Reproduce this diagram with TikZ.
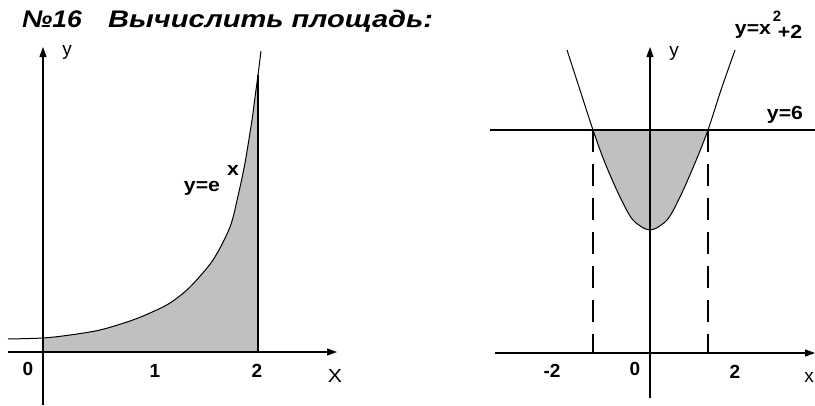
\documentclass[tikz,border=0pt]{standalone}
\usepackage{fontspec}
\setmainfont{Liberation Sans}
\usetikzlibrary{arrows.meta}
\definecolor{shadegray}{RGB}{192,192,192}
\tikzset{
  axis/.style={line width=1.2pt,-{Triangle[length=10pt,width=7pt]}},
  plainline/.style={line width=1.2pt},
  curve/.style={line width=1pt},
  dashline/.style={line width=1.1pt,dash pattern=on 22pt off 12pt},
  lbl/.style={inner sep=0pt,font=\fontsize{19}{21}\selectfont\bfseries},
  lblthin/.style={inner sep=0pt,font=\fontsize{19}{21}\selectfont},
  ttl/.style={inner sep=0pt,anchor=base west,font=\fontsize{24}{26}\selectfont\bfseries\itshape}
}
\newcommand{\wide}[1]{\scalebox{1.12}[1]{#1}}
\begin{document}
\begin{tikzpicture}[x=1pt,y=-1pt]
\useasboundingbox (0,0) rectangle (815,405);
% title
\node[ttl] (num) at (22,27) {\scalebox{1.1}[1]{№16}};
\node[ttl] (title) at (108,27) {\scalebox{1.21}[1]{Вычислить площадь:}};
% ---------- left graph ----------
\def\expcurve{(8,339) (43,338) (70,335) (100,330) (130,321) (150,313) (170,303) (190,287) (213,260) (230,227) (238,196) (245,163) (252,120) (254,105) (256,90) (258,75) (261,51)}
\begin{scope}
\clip (43,0) rectangle (258,352);
\fill[shadegray] (8,352) -- plot[smooth] coordinates {\expcurve} -- (261,352) -- cycle;
\end{scope}
\draw[curve] plot[smooth] coordinates {\expcurve};
\coordinate (ltop) at (258,75);
\coordinate (lbot) at (258,352);
\draw[plainline] (lbot) -- (ltop);
\coordinate (lxs) at (8,352);
\coordinate (lxe) at (337,352);
\coordinate (lys) at (43,405);
\coordinate (lye) at (43,47);
\draw[axis] (lxs) -- (lxe);
\draw[axis] (lys) -- (lye);
\node[lblthin] (ly) at (67,52) {y};
\node[lbl] (lf) at (202,188) {\wide{y=e}};
\node[lbl] (lfx) at (233,170) {\wide{x}};
\node[lbl] (l0) at (28,369) {0};
\node[lbl] (l1) at (155,371) {1};
\node[lbl] (l2) at (257,371) {2};
\node[lblthin] (lx) at (335,376) {\wide{X}};
% ---------- right graph ----------
\def\parcurve{(567,50) (580,90) (593,130) (605,163) (620,197) (633,220) (650,230) (667,220) (680,197) (695,163) (708,130) (721,90) (735,50)}
\begin{scope}
\clip (0,130) rectangle (815,405);
\fill[shadegray] plot[smooth] coordinates {\parcurve} -- cycle;
\end{scope}
\draw[curve] plot[smooth] coordinates {\parcurve};
\coordinate (hs) at (490,130);
\coordinate (he) at (815,130);
\draw[plainline] (hs) -- (he);
\coordinate (d1t) at (593,130);
\coordinate (d1b) at (593,353);
\coordinate (d2t) at (708,130);
\coordinate (d2b) at (708,353);
\draw[dashline] (d1t) -- (d1b);
\draw[dashline] (d2t) -- (d2b);
\coordinate (rxs) at (495,353);
\coordinate (rxe) at (815,353);
\coordinate (rys) at (650,398);
\coordinate (rye) at (650,47);
\draw[axis] (rxs) -- (rxe);
\draw[axis] (rys) -- (rye);
\node[lblthin] (ry) at (674,53) {y};
\node[lbl] (rf) at (753,31) {\wide{y=x}};
\node[lbl] (rfp) at (790,32) {\wide{+2}};
\node[lbl,font=\fontsize{15}{17}\selectfont\bfseries] (rf2) at (777,16) {2};
\node[lbl] (r6) at (785,115) {\wide{y=6}};
\node[lbl] (rm2) at (552,371) {-2};
\node[lbl] (r0) at (635,369) {0};
\node[lbl] (r2) at (735,372) {2};
\node[lblthin] (rx) at (809,377) {x};
\end{tikzpicture}
\end{document}
